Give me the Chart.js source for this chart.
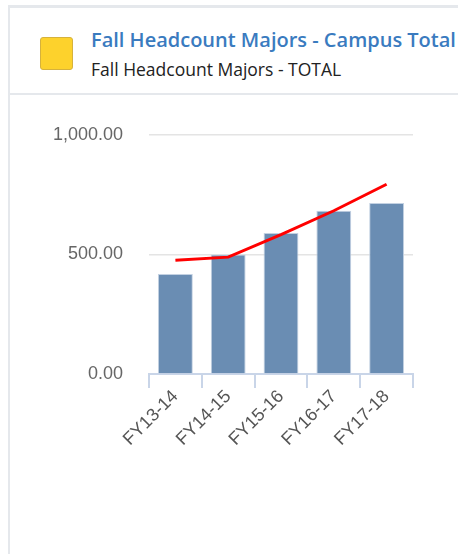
<!DOCTYPE html>
<html>
<head>
<meta charset="utf-8">
<script src="https://cdn.jsdelivr.net/npm/chart.js@4.4.1/dist/chart.umd.min.js"></script>
<style>
  html, body { margin: 0; padding: 0; background: #fff; }
  body { width: 458px; height: 554px; position: relative; overflow: hidden; }
  .card {
    position: absolute; left: 8px; top: 5px; width: 470px; height: 560px;
    border-top: 3px solid #e5e8ec; border-left: 2px solid #e5e8ec;
    box-sizing: border-box; background: #fff;
  }
  .head { position: absolute; left: 0; top: 0; width: 100%; height: 85px; border-bottom: 2px solid #e5e8ec; }
  .swatch {
    position: absolute; left: 30px; top: 29px; width: 33px; height: 33px;
    box-sizing: border-box; background: #fdd22c; border: 1px solid #d6b23c; border-radius: 3px;
  }
  .title {
    position: absolute; left: 81px; top: 18px; white-space: nowrap;
    font: 600 20px "Open Sans", sans-serif; color: #3a7bbf;
  }
  .sub {
    position: absolute; left: 81px; top: 49px; white-space: nowrap;
    font: 400 17.5px "Open Sans", sans-serif; color: #222;
  }
  #chart1 { position: absolute; left: 10px; top: 95px; }
</style>
</head>
<body>
<div class="card">
  <div class="head">
    <div class="swatch"></div>
    <div class="title">Fall Headcount Majors - Campus Total</div>
    <div class="sub">Fall Headcount Majors - TOTAL</div>
  </div>
</div>
<canvas id="chart1" width="448" height="459"></canvas>
<script>
// fiscal years on the x axis
const years = ['FY13-14', 'FY14-15', 'FY15-16', 'FY16-17', 'FY17-18'];
// headcount per year (bars)
const headcount = [418, 500, 590, 683, 715];
// red trend line
const trend = [476, 489, 583, 683, 794];
// y axis ticks
const yTicks = [0, 500, 1000];

const ctx = document.getElementById('chart1');

new Chart(ctx, {
  data: {
    labels: years,
    datasets: [
      {
        type: 'line',
        label: 'Trend',
        data: trend,
        borderColor: '#ff0000',
        borderWidth: 3,
        pointRadius: 0,
        tension: 0,
        fill: false,
        order: 0
      },
      {
        type: 'bar',
        label: 'Fall Headcount Majors - TOTAL',
        data: headcount,
        backgroundColor: '#6a8db3',
        borderColor: '#c3d1e2',
        borderWidth: 1,
        barPercentage: 0.66,
        categoryPercentage: 1,
        order: 1
      }
    ]
  },
  options: {
    responsive: false,
    animation: false,
    layout: { padding: { top: 40, right: 45, left: 0, bottom: 0 } },
    plugins: { legend: { display: false }, tooltip: { enabled: false } },
    scales: {
      x: {
        offset: true,
        grid: {
          offset: true,
          drawOnChartArea: false,
          drawTicks: true,
          tickLength: 14,
          color: '#c9d5e8',
          lineWidth: 2
        },
        border: { display: true, color: '#c9d5e8', width: 2 },
        ticks: {
          maxRotation: 45,
          minRotation: 45,
          padding: -2,
          color: '#555',
          font: { family: 'Liberation Sans, Arial, sans-serif', size: 18 }
        },
        afterFit: axis => { axis.height = 180; }
      },
      y: {
        min: 0,
        max: 1000,
        afterBuildTicks: axis => { axis.ticks = yTicks.map(v => ({ value: v })); },
        grid: { color: '#e4e4e4', lineWidth: 1.5, drawTicks: false },
        border: { display: false },
        ticks: {
          padding: 26,
          color: '#666',
          font: { family: 'Liberation Sans, Arial, sans-serif', size: 18 },
          callback: v => v.toLocaleString('en-US', { minimumFractionDigits: 2, maximumFractionDigits: 2 })
        },
        afterFit: axis => { axis.width = 139; }
      }
    }
  }
});
</script>
</body>
</html>
